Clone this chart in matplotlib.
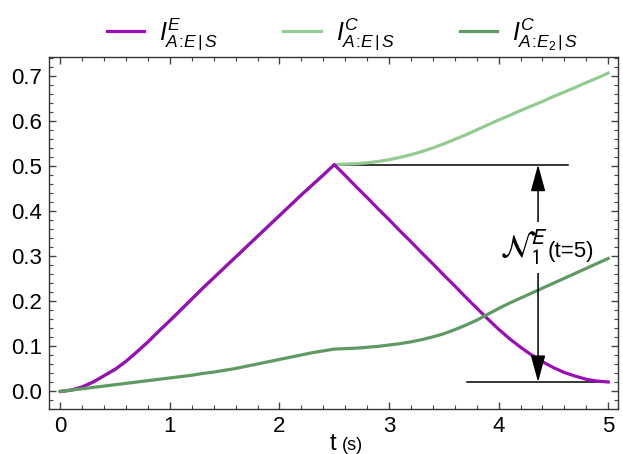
import matplotlib
matplotlib.use("Agg")
import matplotlib.pyplot as plt
from matplotlib.ticker import MultipleLocator

plt.rcParams['font.family'] = ['Liberation Sans', 'DejaVu Sans']
plt.rcParams['mathtext.fontset'] = 'custom'
plt.rcParams['mathtext.rm'] = 'Liberation Sans'
plt.rcParams['mathtext.it'] = 'Liberation Sans:italic'
plt.rcParams['mathtext.bf'] = 'Liberation Sans:bold'

# time grid (s), 0.1 steps
t = [round(0.1 * k, 1) for k in range(51)]

# I^E_{A:E|S}
i_e = [0, 0.003, 0.01, 0.021, 0.035, 0.049, 0.067, 0.088, 0.11, 0.134,
       0.157, 0.181, 0.205, 0.229, 0.252, 0.275, 0.298, 0.321, 0.344, 0.367,
       0.39, 0.413, 0.436, 0.458, 0.48, 0.503,
       0.479, 0.454, 0.43, 0.405, 0.381, 0.356, 0.332, 0.307, 0.283, 0.258,
       0.234, 0.209, 0.185, 0.161, 0.138, 0.117, 0.098, 0.081, 0.066, 0.053,
       0.042, 0.034, 0.027, 0.023, 0.021]
# I^C_{A:E|S} (same as I^E up to t=2.5)
i_c = [0, 0.003, 0.01, 0.021, 0.035, 0.049, 0.067, 0.088, 0.11, 0.134,
       0.157, 0.181, 0.205, 0.229, 0.252, 0.275, 0.298, 0.321, 0.344, 0.367,
       0.39, 0.413, 0.436, 0.458, 0.48, 0.503,
       0.504, 0.505, 0.507, 0.51, 0.514, 0.519, 0.525, 0.532, 0.54, 0.549,
       0.559, 0.569, 0.58, 0.591, 0.602, 0.612, 0.623, 0.633, 0.643, 0.654,
       0.664, 0.674, 0.685, 0.695, 0.706]
# I^C_{A:E2|S}
i_c2 = [0, 0.003, 0.006, 0.009, 0.012, 0.015, 0.018, 0.021, 0.024, 0.027,
        0.03, 0.033, 0.036, 0.04, 0.043, 0.047, 0.051, 0.056, 0.061, 0.066,
        0.071, 0.076, 0.081, 0.086, 0.09, 0.094,
        0.095, 0.096, 0.098, 0.1, 0.103, 0.106, 0.11, 0.115, 0.121, 0.128,
        0.137, 0.147, 0.158, 0.171, 0.184, 0.196, 0.207, 0.218, 0.229, 0.24,
        0.251, 0.262, 0.273, 0.284, 0.295]

labels = [r'$I^{E}_{A\!:\!E\,|\,S}$', r'$I^{C}_{A\!:\!E\,|\,S}$',
          r'$I^{C}_{A\!:\!E_2\,|\,S}$']
colors = ['#9A0DB8', '#93CC90', '#5F9A62']

# annotation values
n_top = 0.503
n_bot = 0.021
arrow_t = 4.36

fig = plt.figure(figsize=(6.23, 4.54), dpi=100)
ax = fig.add_axes([0.0787, 0.099, 0.913, 0.7753])

ax.plot(t, i_e, color=colors[0], lw=2.3, label=labels[0], zorder=3)
ax.plot(t, i_c, color=colors[1], lw=2.3, label=labels[1], zorder=2)
ax.plot(t, i_c2, color=colors[2], lw=2.3, label=labels[2], zorder=4)

# measurement lines and double arrow
ax.plot([2.5, 4.63], [n_top, n_top], color='black', lw=1.1, zorder=1)
ax.plot([3.71, 5.0], [n_bot, n_bot], color='black', lw=1.1, zorder=1)
ax.annotate('', xy=(arrow_t, n_top), xytext=(arrow_t, n_bot),
            arrowprops=dict(arrowstyle='<|-|>,head_length=1.65,head_width=0.45',
                            color='black', lw=1.1, shrinkA=0, shrinkB=0,
                            mutation_scale=10), zorder=5)
ax.text(4.45, 0.296, r'$\mathcal{N}_1^E$', fontsize=23, ha='right', va='baseline',
        math_fontfamily='stixsans',
        bbox=dict(facecolor='white', edgecolor='none', pad=4), zorder=6)
ax.text(4.45, 0.298, '(t=5)', fontsize=16, ha='left', va='baseline', zorder=6)

ax.set_xlim(-0.103, 5.088)
ax.set_ylim(-0.039, 0.7415)
ax.xaxis.set_minor_locator(MultipleLocator(0.2))
ax.yaxis.set_minor_locator(MultipleLocator(0.02))
ax.set_xticks([0, 1, 2, 3, 4, 5], ['0', '1', '2', '3', '4', '5'])
ax.set_yticks([0, 0.1, 0.2, 0.3, 0.4, 0.5, 0.6, 0.7],
              ['0.0', '0.1', '0.2', '0.3', '0.4', '0.5', '0.6', '0.7'])
ax.tick_params(which='both', direction='in', top=True, right=True,
               color='#444444', labelsize=16, pad=5)
ax.tick_params(which='major', length=5, width=1)
ax.tick_params(which='minor', length=3, width=0.8)
for s in ax.spines.values():
    s.set_color('#333333')
    s.set_linewidth(1)

# x label: "t" with smaller "(s)"
ax.text(0.50, -0.116, 't', transform=ax.transAxes, fontsize=17,
        ha='center', va='baseline')
ax.text(0.515, -0.116, '(s)', transform=ax.transAxes, fontsize=13,
        ha='left', va='baseline')

fig.legend(loc='upper center', bbox_to_anchor=(0.55, 1.015), ncol=3, frameon=False,
           fontsize=18, handlelength=1.5, columnspacing=2.6, handletextpad=0.6)

fig.savefig('out.png', dpi=100)
